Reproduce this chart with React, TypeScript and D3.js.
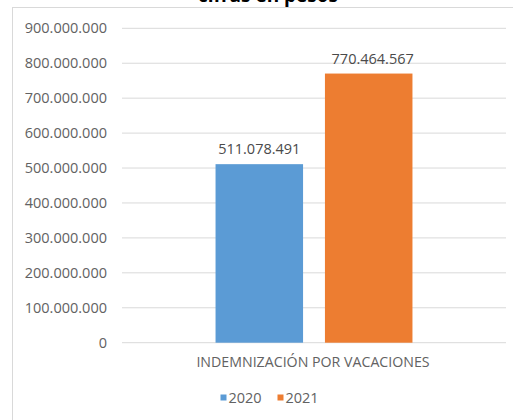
import React from "react";
import * as d3 from "d3";

const categories = ["INDEMNIZACIÓN POR VACACIONES"];
const seriesNames = ["2020", "2021"];
const values2020 = [511078491];
const values2021 = [770464567];
const yTicks = [0, 100e6, 200e6, 300e6, 400e6, 500e6, 600e6, 700e6, 800e6, 900e6];
const colors = ["#5B9BD5", "#ED7D31"];
const titleText = "cifras en pesos";

const W = 513;
const H = 420;
const FONT = "'Open Sans', 'Liberation Sans', sans-serif";

const locale = d3.formatLocale({ decimal: ",", thousands: ".", grouping: [3], currency: ["$", ""] });
const fmt = locale.format(",.0f");

export default function App() {
  const plotLeft = 122;
  const plotRight = 506;
  const y = d3.scaleLinear().domain([0, 900e6]).range([342.7, 28.3]);
  const x0 = d3.scaleBand<string>().domain(categories).range([plotLeft, plotRight]).paddingInner(0).paddingOuter(0.475);
  const x1 = d3.scaleBand<string>().domain(seriesNames).range([0, x0.bandwidth()]).paddingInner(0.2).paddingOuter(0);
  const seriesValues = [values2020, values2021];

  return (
    <svg
      width={W}
      height={H}
      style={{ position: "absolute", left: 0, top: 0, background: "#fff" }}
      fontFamily={FONT}
    >
      <rect x={0} y={0} width={W} height={H} fill="#fff" />
      {/* chart border */}
      <rect x={12.5} y={7.5} width={W + 10} height={H + 10} fill="none" stroke="#d9d9d9" strokeWidth={1} />
      {/* title (cut off at the top, as in the reference) */}
      <text x={268} y={1.5} textAnchor="middle" fontSize={19} fontWeight="bold" fill="#000">
        {titleText}
      </text>
      {/* gridlines and tick labels */}
      {yTicks.map((t) => (
        <g key={t}>
          <line x1={plotLeft} x2={plotRight} y1={y(t)} y2={y(t)} stroke="#d9d9d9" strokeWidth={1} />
          <text x={107} y={y(t)} dy="0.35em" textAnchor="end" fontSize={14.5} fill="#626262">
            {fmt(t)}
          </text>
        </g>
      ))}
      {/* bars */}
      {categories.map((c, ci) => (
        <g key={c} transform={`translate(${x0(c)},0)`}>
          {seriesNames.map((s, si) => {
            const v = seriesValues[si][ci];
            const bx = x1(s)!;
            return (
              <g key={s}>
                <rect x={bx} y={y(v)} width={x1.bandwidth()} height={y(0) - y(v)} fill={colors[si]} />
                <text
                  x={bx + x1.bandwidth() / 2 + (si === 1 ? 4 : 0)}
                  y={y(v) - 10}
                  textAnchor="middle"
                  fontSize={14.5}
                  fill="#4a4a4a"
                >
                  {fmt(v)}
                </text>
              </g>
            );
          })}
          <text x={x0.bandwidth() / 2 - 1} y={362} dy="0.35em" textAnchor="middle" fontSize={14.2} fill="#626262">
            {c}
          </text>
        </g>
      ))}
      {/* legend */}
      {seriesNames.map((s, i) => {
        const lx = [220.5, 277.5][i];
        return (
          <g key={s}>
            <rect x={lx} y={394.5} width={6} height={6} fill={colors[i]} />
            <text x={lx + 8} y={397.5} dy="0.35em" fontSize={14.5} fill="#626262">
              {s}
            </text>
          </g>
        );
      })}
    </svg>
  );
}
